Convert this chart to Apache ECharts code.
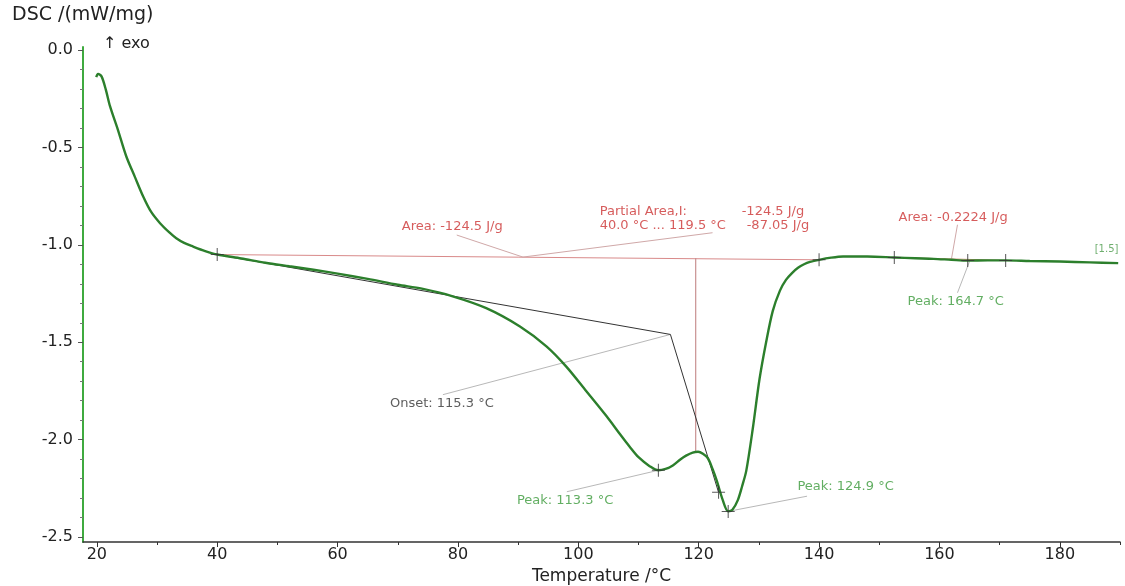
<!DOCTYPE html>
<html>
<head>
<meta charset="utf-8">
<script src="https://cdn.jsdelivr.net/npm/echarts@6/dist/echarts.min.js"></script>
<style>
html,body{margin:0;padding:0;background:#fff;}
#c{width:1125px;height:586px;}
</style>
</head>
<body>
<div id="c"></div>
<script>
// ---- data ----
const temps = [19.9, 20.2, 20.8, 21.5, 22.2, 23.5, 24.9, 26.3, 27.7, 29, 30.5, 32, 33.2, 34.5, 36, 38, 40, 44, 48, 52, 56, 60, 65, 70, 74, 79, 84.7, 90.3, 94.7, 98, 101.3, 104.7, 107, 108.5, 110, 111.9, 113.3, 114.5, 115.7, 117, 117.9, 119, 119.9, 120.7, 121.5, 122.3, 123, 124, 124.9, 125.6, 126.5, 127.2, 127.9, 129, 130.1, 131.2, 132.3, 133.5, 134.5, 135.5, 136.5, 137.5, 138.5, 140, 142, 144, 148, 152.5, 156, 159, 162, 164.7, 168, 171, 175, 180, 185, 189.7];
const dsc = [-0.14, -0.123, -0.137, -0.205, -0.29, -0.41, -0.547, -0.65, -0.752, -0.83, -0.889, -0.935, -0.966, -0.99, -1.009, -1.032, -1.05, -1.07, -1.092, -1.11, -1.128, -1.148, -1.175, -1.205, -1.225, -1.263, -1.325, -1.419, -1.521, -1.625, -1.75, -1.88, -1.975, -2.035, -2.09, -2.137, -2.157, -2.15, -2.132, -2.1, -2.082, -2.066, -2.062, -2.072, -2.094, -2.15, -2.21, -2.31, -2.368, -2.36, -2.31, -2.24, -2.16, -1.94, -1.69, -1.5, -1.34, -1.235, -1.18, -1.145, -1.118, -1.1, -1.088, -1.077, -1.066, -1.06, -1.06, -1.065, -1.069, -1.072, -1.077, -1.081, -1.08, -1.08, -1.083, -1.086, -1.09, -1.094];

const xMajorTicks = [20, 40, 60, 80, 100, 120, 140, 160, 180];
const xMinorTicks = [30, 50, 70, 90, 110, 130, 150, 170, 190];
const yMajorTicks = [0, -0.5, -1.0, -1.5, -2.0, -2.5];
const yMinorTicks = [-0.1, -0.2, -0.3, -0.4, -0.6, -0.7, -0.8, -0.9, -1.1, -1.2, -1.3, -1.4, -1.6, -1.7, -1.8, -1.9, -2.1, -2.2, -2.3, -2.4];

// evaluation construction lines (temperature, DSC)
const areaBaseline = [[40, -1.05], [140, -1.077]];
const partialLimit = [[119.5, -1.068], [119.5, -2.062]];
const smallAreaBaseline = [[152.5, -1.065], [171, -1.08]];
const onsetLines = [[40, -1.05], [115.3, -1.46], [123.3, -2.27]];
const markers = [[40, -1.05], [113.3, -2.157], [123.3, -2.27], [124.9, -2.368], [140, -1.077], [152.5, -1.065], [164.7, -1.081], [171, -1.08]];

const redLeaders = [
  [[79.8, -0.95], [90.8, -1.063], [122.3, -0.938]],
  [[163, -0.897], [162, -1.072]]
];
const grayLeaders = [
  [[77.5, -1.769], [115.3, -1.46]],
  [[98.1, -2.267], [113.3, -2.157]],
  [[124.9, -2.368], [138, -2.29]],
  [[165, -1.085], [163, -1.246]]
];

const redTexts = [
  [70.66, -0.908, 'Area: -124.5 J/g'],
  [103.55, -0.829, 'Partial Area,I:'],
  [127.14, -0.829, '-124.5 J/g'],
  [103.55, -0.900, '40.0 °C ... 119.5 °C'],
  [127.97, -0.900, '-87.05 J/g'],
  [153.2, -0.862, 'Area: -0.2224 J/g']
];
const greenTexts = [
  [89.8, -2.313, 'Peak: 113.3 °C'],
  [136.4, -2.241, 'Peak: 124.9 °C'],
  [154.7, -1.292, 'Peak: 164.7 °C']
];
const blackTexts = [
  [68.7, -1.813, 'Onset: 115.3 °C']
];
const rangeTag = [[185.8, -1.026, '[1.5]']];

// ---- chart ----
const FONT = 'DejaVu Sans, Liberation Sans, Arial, sans-serif';
const chart = echarts.init(document.getElementById('c'), null, {renderer: 'canvas'});

function lineSeries(pts, color, width, z) {
  return {
    type: 'line', data: pts, symbol: 'none', silent: true, animation: false,
    lineStyle: {color: color, width: width}, z: z || 2
  };
}
function textSeries(items, color, size) {
  return {
    type: 'scatter', data: items, symbolSize: 0, silent: true, animation: false, z: 5,
    label: {
      show: true, position: 'right', distance: 0,
      formatter: p => p.data[2],
      color: color, fontSize: size, fontFamily: FONT
    }
  };
}

const series = [];
series.push(lineSeries(areaBaseline, '#d98a8a', 1, 2));
series.push(lineSeries(partialLimit, '#c99090', 1.2, 2));
series.push(lineSeries(smallAreaBaseline, '#c98a6a', 1, 2));
series.push(lineSeries(onsetLines, '#333333', 1, 3));
redLeaders.forEach(l => series.push(lineSeries(l, '#d0a8a8', 1, 2)));
grayLeaders.forEach(l => series.push(lineSeries(l, '#b8b8b8', 1, 2)));
series.push({
  type: 'line', data: temps.map((t, i) => [t, dsc[i]]), symbol: 'none',
  smooth: 0.3, animation: false, z: 4,
  lineStyle: {color: '#2c7f2c', width: 2.4}
});
series.push({
  type: 'scatter', data: markers, animation: false, z: 6, silent: true,
  symbol: 'path://M4.6,0h0.8v10h-0.8zM0,4.6h10v0.8h-10z', symbolSize: 13,
  itemStyle: {color: '#333'}
});
series.push(textSeries(redTexts, '#cc3333', 13));
series.push(textSeries(greenTexts, '#3b9a3b', 13));
series.push(textSeries(blackTexts, '#333333', 13));
series.push(textSeries(rangeTag, '#4a9a4a', 10));

const xmin = 17.7, xmax = 190, ymin = -2.525, ymax = 0.015;

chart.setOption({
  animation: false,
  backgroundColor: '#fff',
  grid: {left: 83, right: 5, top: 47, bottom: 44, containLabel: false, outerBoundsMode: 'none'},
  xAxis: [{
    type: 'value', min: xmin, max: xmax, position: 'bottom',
    name: 'Temperature /°C', nameLocation: 'middle', nameGap: 24,
    nameTextStyle: {fontSize: 17, color: '#222', fontFamily: FONT},
    axisLine: {show: true, onZero: false, lineStyle: {color: '#333', width: 1.5}},
    axisTick: {show: true, inside: false, length: 5, customValues: xMajorTicks, lineStyle: {color: '#333'}},
    axisLabel: {show: true, customValues: xMajorTicks, margin: 5, fontSize: 16, color: '#222', fontFamily: FONT, formatter: v => String(v)},
    splitLine: {show: false}
  }, {
    type: 'value', min: xmin, max: xmax, position: 'bottom',
    axisLine: {show: false, onZero: false},
    axisTick: {show: true, inside: false, length: 3, customValues: xMinorTicks, lineStyle: {color: '#333'}},
    axisLabel: {show: false},
    splitLine: {show: false}
  }],
  yAxis: [{
    type: 'value', min: ymin, max: ymax, position: 'left',
    axisLine: {show: true, onZero: false, lineStyle: {color: '#3faa3f', width: 2}},
    axisTick: {show: true, inside: false, length: 5, customValues: yMajorTicks, lineStyle: {color: '#555'}},
    axisLabel: {show: true, customValues: yMajorTicks, margin: 10, fontSize: 16, color: '#222', fontFamily: FONT, formatter: v => v.toFixed(1)},
    splitLine: {show: false}
  }, {
    type: 'value', min: ymin, max: ymax, position: 'left',
    axisLine: {show: false, onZero: false},
    axisTick: {show: true, inside: false, length: 3, customValues: yMinorTicks, lineStyle: {color: '#777'}},
    axisLabel: {show: false},
    splitLine: {show: false}
  }],
  graphic: [
    {type: 'text', left: 12, top: 6, style: {text: 'DSC /(mW/mg)', fontSize: 19, fill: '#222', fontFamily: FONT}},
    {type: 'text', left: 103, top: 36, style: {text: '↑ exo', fontSize: 16, fill: '#222', fontFamily: FONT}}
  ],
  series: series
});
</script>
</body>
</html>
